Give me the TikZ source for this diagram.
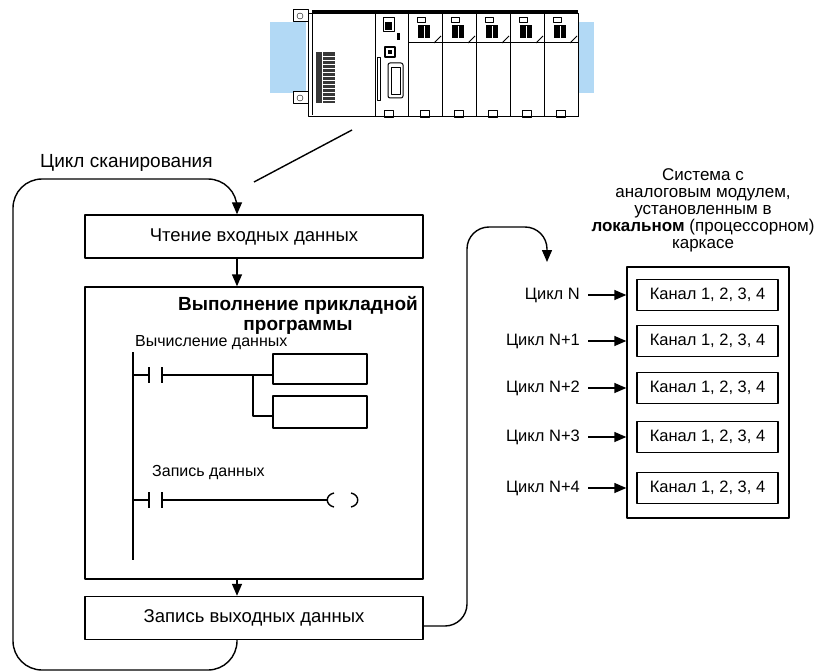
\documentclass[tikz,border=0pt]{standalone}
\usepackage{fontspec}
\setmainfont{Liberation Sans}
\usetikzlibrary{arrows.meta}
\definecolor{rackblue}{rgb}{0.70,0.85,0.96}
\definecolor{termgray}{rgb}{0.22,0.22,0.22}

\tikzset{
  wire/.style={line width=1.4pt},
  blk/.style={draw,line width=1.4pt,minimum width=338,minimum height=43,inner sep=0pt,
    font=\fontsize{18.5}{22}\selectfont},
  chan/.style={draw,line width=1.4pt,minimum width=141,minimum height=31,inner sep=0pt,
    font=\fontsize{16.5}{20}\selectfont},
  lbl/.style={inner sep=0pt,font=\fontsize{16.5}{20}\selectfont},
  ladlbl/.style={inner sep=0pt,anchor=west,font=\fontsize{16}{19}\selectfont},
}

\begin{document}
\begin{tikzpicture}[line join=round,>={Triangle[length=12pt,width=10pt]},x=1pt,y=-1pt]
	\useasboundingbox (0,0) rectangle (819,671);
	% PLC rack on its mounting plate
	\fill[rackblue] (270,22) rectangle (306,93);
	\fill[rackblue] (577,22) rectangle (594,93);
	\foreach \ey in {10,92} {
	  \draw[line width=1pt,fill=white] (293,\ey) rectangle (308,\ey+12);
	  \draw (300,\ey+6) circle (3pt);
	}
	\draw[line width=1pt,fill=white] (308,14) rectangle (578,117);
	\fill (312,10) rectangle (578,14);
	% power supply
	\draw[line width=1pt] (312,14) -- (312,115);
	\draw[line width=1pt] (375,14) -- (375,117);
	\fill[termgray] (316,52) rectangle (335,103);
	\foreach \ty in {56,60,...,100}
	  \draw[white,line width=0.4pt] (322,\ty) -- (335,\ty);
	\draw[white,line width=0.5pt] (322,52) -- (322,103);
	% CPU
	\draw[line width=1pt] (383,18) rectangle (394,32);
	\fill (385,22) rectangle (392,30);
	\fill (397,33) rectangle (400,40);
	\draw[line width=1.2pt] (385,47) rectangle (395,57);
	\fill (388,50) rectangle (392,54);
	\draw[line width=1pt,rounded corners=2pt] (388,63) rectangle (403,98);
	\draw (391,67) rectangle (400,94);
	\draw (377,57) rectangle (380,100);
	\draw (384,110) rectangle (393,117);
	% I/O modules
	\foreach \xa in {408,442,476,510,544} {
	  \draw[line width=1pt] (\xa,14) rectangle (\xa+34,117);
	  \draw (\xa+9,17) rectangle (\xa+17,22);
	  \fill (\xa+10,25) rectangle (\xa+22,38);
	  \draw[white,line width=1pt] (\xa+16,26) -- (\xa+16,38);
	  \draw[line width=1pt] (\xa,43) -- (\xa+34,43);
	  \draw[line width=1pt] (\xa+26,43) -- (\xa+33,36);
	  \draw (\xa+12,110) rectangle (\xa+21,117);
	}
	\coordinate (plcpt) at (352,130);
	\coordinate (cyclept) at (254,182);
	\draw[wire] (cyclept) -- (plcpt);

	% scan cycle
	\coordinate (arrx) at (237,0);
	\node[blk] (read) at (254,236.5) {Чтение входных данных};
	\node[draw,line width=1.4pt,minimum width=338,minimum height=292,inner sep=0pt] (exec) at (254,433) {};
	\node[blk] (write) at (254,618) {Запись выходных данных};
	\node[inner sep=0pt,anchor=west,font=\fontsize{19}{22}\selectfont] (scanlbl) at (40,163) {Цикл сканирования};
	\draw[->,wire] (read.south -| arrx) -- (exec.north -| arrx);
	\draw[->,wire] (exec.south -| arrx) -- (write.north -| arrx);
	\draw[->,wire,rounded corners=29] (write.south -| arrx) -- (237,670) -- (13,670) -- (13,179) -- (237,179) -- (read.north -| arrx);

	% ladder program
	\node[ladlbl] (calclbl) at (135,343) {Вычисление данных};
	\node[ladlbl] (writelbl) at (152,473) {Запись данных};
	\node[fill=white,inner xsep=0pt,inner ysep=2pt,align=center,font=\bfseries\fontsize{19}{20}\selectfont] (title) at (298,315)
	  {Выполнение прикладной\\программы};
	\draw[wire] (133,352) -- (133,560);
	\foreach \ry in {375,500} {
	  \draw[wire] (133,\ry) -- (149,\ry);
	  \draw[wire] (149,\ry-8) -- (149,\ry+8);
	  \draw[wire] (162,\ry-8) -- (162,\ry+8);
	}
	\draw[wire] (273,354) rectangle (367,384);
	\draw[wire] (273,396) rectangle (367,428);
	\draw[wire] (162,375) -- (273,375);
	\draw[wire] (253,375) -- (253,416) -- (273,416);
	\draw[wire] (162,500) -- (327,500);
	\draw[wire] (334,493) .. controls (325,495) and (325,505) .. (334,507);
	\draw[wire] (351,493) .. controls (360,495) and (360,505) .. (351,507);

	% output to the analog module
	\coordinate (outpt) at (547,262);
	\draw[->,wire,rounded corners=22] ([yshift=-8pt]write.east) -- (467,626) -- (467,227) -- (547,227) -- (outpt);
	\node[lbl,align=center,font=\fontsize{17}{17}\selectfont] (sysnote) at (703,210)
	  {Система с\\аналоговым модулем,\\установленным в\\\textbf{локальном} (процессорном)\\каркасе};
	\node[draw,line width=1.4pt,minimum width=162,minimum height=251,inner sep=0pt] (frame) at (708,392.5) {};
	\foreach \cy/\cn [count=\i] in {295/N,341/N+1,388/N+2,437/N+3,488/N+4} {
	  \node[chan] (ch\i) at (707.5,\cy) {Канал 1, 2, 3, 4};
	  \node[lbl,anchor=east] (cyc\i) at (580,\cy) {Цикл \cn};
	  \draw[->,wire] ([xshift=8pt]cyc\i.east) -- (frame.west |- ch\i);
	}
\end{tikzpicture}
\end{document}
